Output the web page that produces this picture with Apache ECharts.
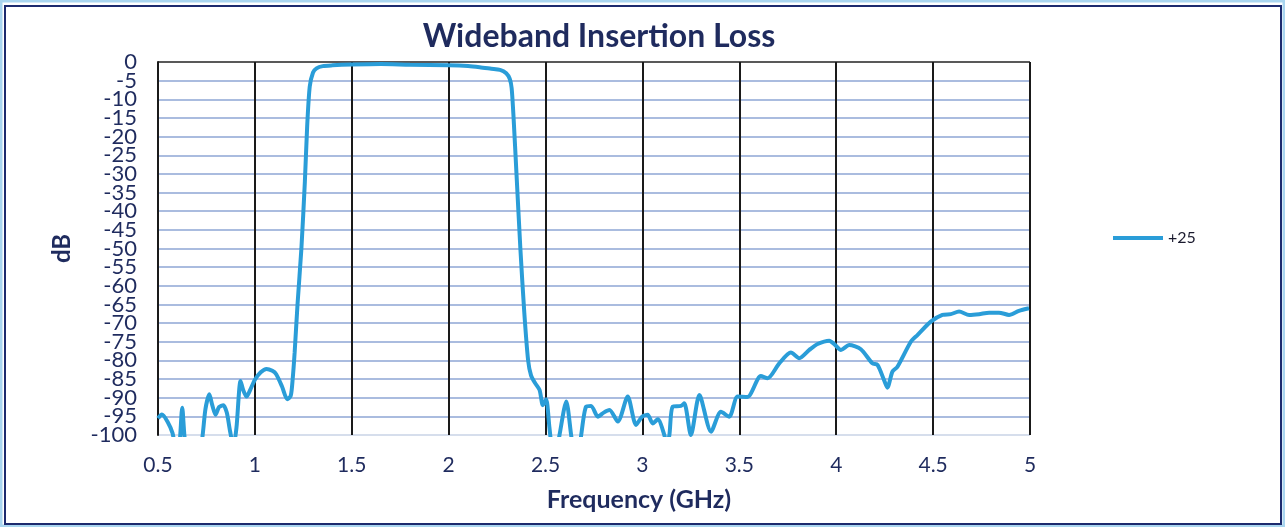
<!DOCTYPE html>
<html>
<head>
<meta charset="utf-8">
<script src="https://cdn.jsdelivr.net/npm/echarts@6/dist/echarts.min.js"></script>
<style>
html,body{margin:0;padding:0;background:#fff;}
#chart{width:1285px;height:527px;}
</style>
</head>
<body>
<div id="chart"></div>
<script>
var titleText = 'Wideband Insertion Loss';
var xAxisTitle = 'Frequency (GHz)';
var yAxisTitle = 'dB';
var seriesName = '+25';

var frequency = [
  0.50,0.52,0.55,0.575,0.595,0.61,0.625,0.64,0.67,0.70,0.728,0.745,0.765,0.78,0.797,0.815,0.837,0.855,0.872,0.89,
  0.905,0.926,0.94,0.957,0.975,1.00,1.03,1.06,1.09,1.11,1.14,1.167,1.185,1.195,1.205,1.22,1.24,1.258,1.27,1.283,
  1.30,1.318,1.35,1.40,1.50,1.65,1.80,2.00,2.10,2.16,2.22,2.265,2.297,2.315,2.325,2.335,2.35,2.37,2.39,2.41,
  2.425,2.445,2.469,2.486,2.503,2.52,2.535,2.555,2.572,2.607,2.632,2.65,2.67,2.684,2.709,2.735,2.77,2.80,2.83,2.873,
  2.924,2.967,2.998,3.027,3.053,3.079,3.113,3.125,3.139,3.156,3.199,3.216,3.25,3.294,3.354,3.405,3.448,3.491,3.542,3.611,
  3.646,3.706,3.766,3.809,3.861,3.904,3.964,3.995,4.024,4.067,4.127,4.187,4.213,4.247,4.264,4.29,4.316,4.385,4.419,4.488,
  4.548,4.591,4.634,4.686,4.737,4.789,4.84,4.892,4.943,4.995
];
var insertionLoss = [
  -95.5,-94.5,-96.5,-99.5,-104,-103,-92.7,-102,-108,-108,-101,-93,-89.1,-92,-94.6,-92.5,-92,-94,-99,-103,
  -98,-85.5,-88,-89.7,-88,-85.2,-83.2,-82.3,-82.8,-83.7,-87,-90.4,-89.5,-85,-78,-65,-50,-32,-17,-6.6,
  -2.8,-1.7,-1.1,-0.9,-0.7,-0.55,-0.75,-0.9,-1.1,-1.4,-1.8,-2.1,-3.0,-4.5,-7,-15,-30,-50,-67,-80,
  -84,-86,-87.9,-92,-90.4,-98,-104,-105,-100,-91,-100,-106,-106,-100,-92.4,-92.2,-95.1,-94,-93.3,-96.4,
  -89.7,-97.3,-95.1,-94.6,-96.9,-95.8,-100,-103,-100,-92.4,-92.2,-91.5,-100,-89.3,-99.1,-93.8,-95.1,-89.7,-89.8,-84.2,
  -84.8,-80.8,-77.9,-79.4,-77.2,-75.6,-74.7,-75.9,-77.2,-75.9,-77.0,-80.8,-81.2,-85.3,-87.3,-83.0,-81.7,-75.0,-73.2,-69.6,
  -67.8,-67.6,-66.9,-67.8,-67.6,-67.2,-67.2,-67.8,-66.7,-66.0
];

var navy = '#1f2b5e';
var pts = frequency.map(function (f, i) { return [f, insertionLoss[i]]; });

var hColors = [];
for (var i = 0; i <= 20; i++) {
  hColors.push(i === 0 ? '#c9d3e6' : (i === 20 ? '#222222' : '#8ea6d4'));
}
var yLabelStyle = {margin: 21, fontFamily: 'Lato', fontSize: 22, color: navy, showMinLabel: true, showMaxLabel: true};

var chart = echarts.init(document.getElementById('chart'), null, {renderer: 'canvas'});
chart.setOption({
  backgroundColor: '#ffffff',
  animation: false,
  title: {
    text: titleText,
    left: 594, top: 16, textAlign: 'center',
    textStyle: {fontFamily: 'Lato', fontWeight: 'bold', fontSize: 32, color: navy}
  },
  legend: {
    left: 1108, top: 224,
    icon: 'rect', itemWidth: 50, itemHeight: 4,
    data: [seriesName],
    textStyle: {fontFamily: 'Lato', fontSize: 16, color: '#1a1a2e', lineHeight: 18}
  },
  grid: {left: 158, right: 255, top: 62, bottom: 92, containLabel: false},
  xAxis: {
    type: 'value', min: 0.5, max: 5, interval: 0.5,
    name: xAxisTitle, nameLocation: 'middle', nameGap: 52,
    nameTextStyle: {fontFamily: 'Lato', fontWeight: 'bold', fontSize: 25, color: navy, padding: [0, 0, 0, 90]},
    axisLine: {show: false},
    axisTick: {show: false},
    axisLabel: {margin: 20, fontFamily: 'Lato', fontSize: 21, color: navy, showMinLabel: true, showMaxLabel: true},
    splitLine: {show: true, lineStyle: {color: '#1a1a1a', width: 2}}
  },
  yAxis: [{
    type: 'value', position: 'left', offset: 0, min: -100, max: 0, interval: 10,
    name: yAxisTitle, nameLocation: 'middle', nameGap: 84, nameRotate: 90,
    nameTextStyle: {fontFamily: 'Lato', fontWeight: 'bold', fontSize: 24, color: navy},
    axisLine: {show: true, onZero: false, lineStyle: {color: '#1a1a1a', width: 2}},
    axisTick: {show: false},
    axisLabel: yLabelStyle,
    splitLine: {show: false}
  }, {
    type: 'value', position: 'left', offset: 0, min: -100, max: 0, interval: 5,
    axisLine: {show: false},
    axisTick: {show: false},
    axisLabel: Object.assign({}, yLabelStyle, {
      formatter: function (v) { return (Math.round(v) % 10 === 0) ? '' : String(v); }
    }),
    splitLine: {show: true, lineStyle: {color: hColors, width: 1.5}}
  }],
  series: [{
    name: seriesName,
    type: 'line',
    yAxisIndex: 0,
    data: pts,
    smooth: 0.25,
    symbol: 'none',
    clip: true,
    lineStyle: {color: '#2a9dd8', width: 4},
    itemStyle: {color: '#2a9dd8'}
  }],
  graphic: [
    {type: 'rect', shape: {x: 1, y: 1, width: 1283, height: 525}, style: {fill: 'none', stroke: '#a9d5ef', lineWidth: 3}, silent: true},
    {type: 'rect', shape: {x: 5, y: 6, width: 1276, height: 518}, style: {fill: 'none', stroke: '#1c2a6e', lineWidth: 2}, silent: true}
  ]
});
</script>
</body>
</html>
